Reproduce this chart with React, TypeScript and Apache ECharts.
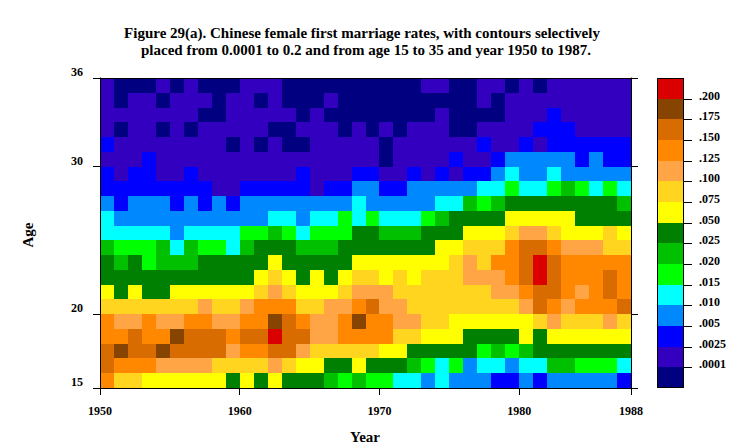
import React, { useEffect, useRef } from 'react';
import * as echarts from 'echarts';

const TITLE_LINES = [
  'Figure 29(a). Chinese female first marriage rates, with contours selectively',
  'placed from 0.0001 to 0.2 and from age 15 to 35 and year 1950 to 1987.',
];
const X_NAME = 'Year';
const Y_NAME = 'Age';

// cell columns (year of the cell's left edge)
const YEARS = [
  1950, 1951, 1952, 1953, 1954, 1955, 1956, 1957, 1958, 1959,
  1960, 1961, 1962, 1963, 1964, 1965, 1966, 1967, 1968, 1969,
  1970, 1971, 1972, 1973, 1974, 1975, 1976, 1977, 1978, 1979,
  1980, 1981, 1982, 1983, 1984, 1985, 1986, 1987,
];
// cell rows, top to bottom (age of the cell's lower edge)
const AGES = [35, 34, 33, 32, 31, 30, 29, 28, 27, 26, 25, 24, 23, 22, 21, 20, 19, 18, 17, 16, 15];

// contour class of each cell (hex digit 0..e), one string per age row, one char per year
const LEVEL_ROWS = [
  '1000101000 1110000000 0001100110 10111111',
  '1011011101 1010001000 0000000101 11111111',
  '1111111001 1111010000 0000100001 11211111',
  '1011010111 1100111010 1011100111 12221111',
  '2111111110 1010011111 0111111211 21222222',
  '1112111111 1111111111 0111121123 33332322',
  '2122112111 1111211122 1121212234 33433333',
  '2222222211 2222212233 2233333445 44565454',
  '3233323232 3333333343 3333446567 77777776',
  '4333333333 3344344545 4445677778 88887777',
  '4444434444 5565455577 6667778889 aa988898',
  '6555646554 6777666777 777788999b ccbaaa99',
  '7675666777 7787777788 888889a9bb cecbbbbb',
  '7777777777 7898787899 898999aaab cecbbbcb',
  '8787788888 89a98889aa a9999999aa bccbabcb',
  '9999999a99 abbb99aabc aa99999999 acbabbbc',
  'baabaabbaa bbdcbaabdb baa9988888 89a999a9',
  'bbcbbdcccb cceccaabbb b998887777 87888888',
  'cdccdcccca bbcca99999 8877777565 67777777',
  'cbbbaaaa99 99a9887787 7765453443 44665554',
  'b998888887 8787776565 5443433322 32333332',
];

// representative first-marriage rate for each contour class
const LEVEL_VALUES = [
  0.00005, 0.0013, 0.00375, 0.0075, 0.0125, 0.0175, 0.0225, 0.0375,
  0.0625, 0.0875, 0.1125, 0.1375, 0.1625, 0.1875, 0.21,
];
const LEVEL_COLORS = [
  '#000080', '#3300c0', '#0000ff', '#0088ff', '#00ffff', '#00ff00', '#00c000', '#008000',
  '#ffff00', '#ffd520', '#ffa545', '#ff8800', '#d86c00', '#874300', '#da0000',
];
const THRESHOLDS = [0.0001, 0.0025, 0.005, 0.01, 0.015, 0.02, 0.025, 0.05, 0.075, 0.1, 0.125, 0.15, 0.175, 0.2];
const THRESHOLD_LABELS = ['.0001', '.0025', '.005', '.010', '.015', '.020', '.025', '.050', '.075', '.100', '.125', '.150', '.175', '.200'];

const X_TICKS = [1950, 1960, 1970, 1980, 1988];
const Y_TICKS = [15, 20, 30, 36];
const X_MIN = 1950;
const X_MAX = 1988;
const Y_MIN = 15;
const Y_MAX = 36;

const FONT = "'Liberation Serif', 'Times New Roman', serif";

function colorFor(v: number): string {
  let level = 0;
  for (const t of THRESHOLDS) if (v >= t) level++;
  return LEVEL_COLORS[level];
}

function textStyle(text: string, size: number, align: string, valign: string) {
  return {
    text,
    fontSize: size,
    fontWeight: 'bold',
    fontFamily: FONT,
    fill: '#000',
    textAlign: align,
    textVerticalAlign: valign,
  };
}

export default function App() {
  const ref = useRef<HTMLDivElement>(null);

  useEffect(() => {
    if (!ref.current) return;
    const chart = echarts.init(ref.current, null, { renderer: 'svg' });

    const data: number[][] = [];
    AGES.forEach((age, r) => {
      const codes = LEVEL_ROWS[r].replace(/\s+/g, '');
      YEARS.forEach((year, c) => {
        const level = parseInt(codes[c], 16);
        data.push([year, age, LEVEL_VALUES[level]]);
      });
    });

    const gridLeft = 100;
    const gridTop = 78;
    const gridRight = 108;
    const gridBottom = 58;
    const plotBottom = 446 - gridBottom;

    // legend geometry
    const legX = 657;
    const legW = 27;
    const legTop = gridTop;
    const legBoxH = (plotBottom - legTop) / LEVEL_COLORS.length;
    const legendEls: any[] = [];
    LEVEL_COLORS.forEach((col, i) => {
      const k = LEVEL_COLORS.length - 1 - i;
      const y0 = Math.round(legTop + k * legBoxH);
      const y1 = Math.round(legTop + (k + 1) * legBoxH);
      legendEls.push({
        type: 'rect',
        shape: { x: legX, y: y0, width: legW, height: y1 - y0 },
        style: { fill: col },
        silent: true,
      });
    });
    legendEls.push({
      type: 'rect',
      shape: { x: legX + 0.5, y: legTop + 0.5, width: legW - 1, height: plotBottom - legTop - 1 },
      style: { fill: 'none', stroke: '#000', lineWidth: 1 },
      silent: true,
    });
    THRESHOLD_LABELS.forEach((lab, j) => {
      const yb = Math.round(legTop + (LEVEL_COLORS.length - 1 - j) * legBoxH) + 0.5;
      legendEls.push({
        type: 'line',
        shape: { x1: legX + legW, y1: yb, x2: legX + legW + 8, y2: yb },
        style: { stroke: '#000', lineWidth: 1 },
        silent: true,
      });
      legendEls.push({
        type: 'text',
        x: 699,
        y: yb - 4,
        style: textStyle(lab, 12, 'left', 'middle'),
        silent: true,
      });
    });

    const axisLabelStyle = { color: '#000', fontFamily: FONT, fontWeight: 'bold' as const };

    const option: any = {
      animation: false,
      backgroundColor: '#fff',
      grid: { left: gridLeft, top: gridTop, right: gridRight, bottom: gridBottom, containLabel: false },
      xAxis: [
        {
          type: 'value',
          position: 'bottom',
          min: X_MIN,
          max: X_MAX,
          z: 5,
          splitLine: { show: false },
          axisLine: { show: true, lineStyle: { color: '#000', width: 1 } },
          axisTick: { show: true, length: 7, customValues: X_TICKS, lineStyle: { color: '#000', width: 1 } },
          axisLabel: {
            ...axisLabelStyle,
            fontSize: 12,
            margin: 17,
            customValues: X_TICKS,
            formatter: (v: number) => String(v),
          },
        },
        {
          type: 'value',
          position: 'top',
          min: X_MIN,
          max: X_MAX,
          z: 5,
          splitLine: { show: false },
          axisLine: { show: true, lineStyle: { color: '#000', width: 1 } },
          axisTick: { show: false },
          axisLabel: { show: false },
        },
      ],
      yAxis: [
        {
          type: 'value',
          position: 'left',
          min: Y_MIN,
          max: Y_MAX,
          z: 5,
          splitLine: { show: false },
          axisLine: { show: true, lineStyle: { color: '#000', width: 1 } },
          axisTick: { show: true, length: 7, customValues: Y_TICKS, lineStyle: { color: '#000', width: 1 } },
          axisLabel: {
            ...axisLabelStyle,
            fontSize: 12,
            margin: 17,
            verticalAlign: 'bottom',
            lineHeight: 12,
            customValues: Y_TICKS,
          },
        },
        {
          type: 'value',
          position: 'right',
          min: Y_MIN,
          max: Y_MAX,
          z: 5,
          splitLine: { show: false },
          axisLine: { show: true, lineStyle: { color: '#000', width: 1 } },
          axisTick: { show: true, length: 7, customValues: Y_TICKS, lineStyle: { color: '#000', width: 1 } },
          axisLabel: { show: false },
        },
      ],
      series: [
        {
          type: 'custom',
          xAxisIndex: 0,
          yAxisIndex: 0,
          clip: true,
          encode: { x: 0, y: 1 },
          data,
          renderItem: (_params: any, api: any) => {
            const year = api.value(0);
            const age = api.value(1);
            const v = api.value(2);
            const p0 = api.coord([year, age + 1]);
            const p1 = api.coord([year + 1, age]);
            const x0 = Math.round(p0[0]);
            const y0 = Math.round(p0[1]);
            const x1 = Math.round(p1[0]);
            const y1 = Math.round(p1[1]);
            return {
              type: 'rect',
              shape: { x: x0, y: y0, width: x1 - x0, height: y1 - y0 },
              style: { fill: colorFor(v) },
            };
          },
        },
      ],
      graphic: [
        { type: 'text', x: 362, y: 33, style: textStyle(TITLE_LINES[0], 15, 'center', 'middle') },
        { type: 'text', x: 366, y: 50, style: textStyle(TITLE_LINES[1], 15, 'center', 'middle') },
        { type: 'text', x: 365, y: 437, style: textStyle(X_NAME, 15, 'center', 'middle') },
        { type: 'text', x: 28, y: 235, rotation: Math.PI / 2, style: textStyle(Y_NAME, 15, 'center', 'middle') },
        ...legendEls,
      ],
    };

    chart.setOption(option);
    return () => chart.dispose();
  }, []);

  return (
    <div
      ref={ref}
      style={{ position: 'fixed', left: 0, top: 0, width: 739, height: 446, background: '#fff' }}
    />
  );
}
